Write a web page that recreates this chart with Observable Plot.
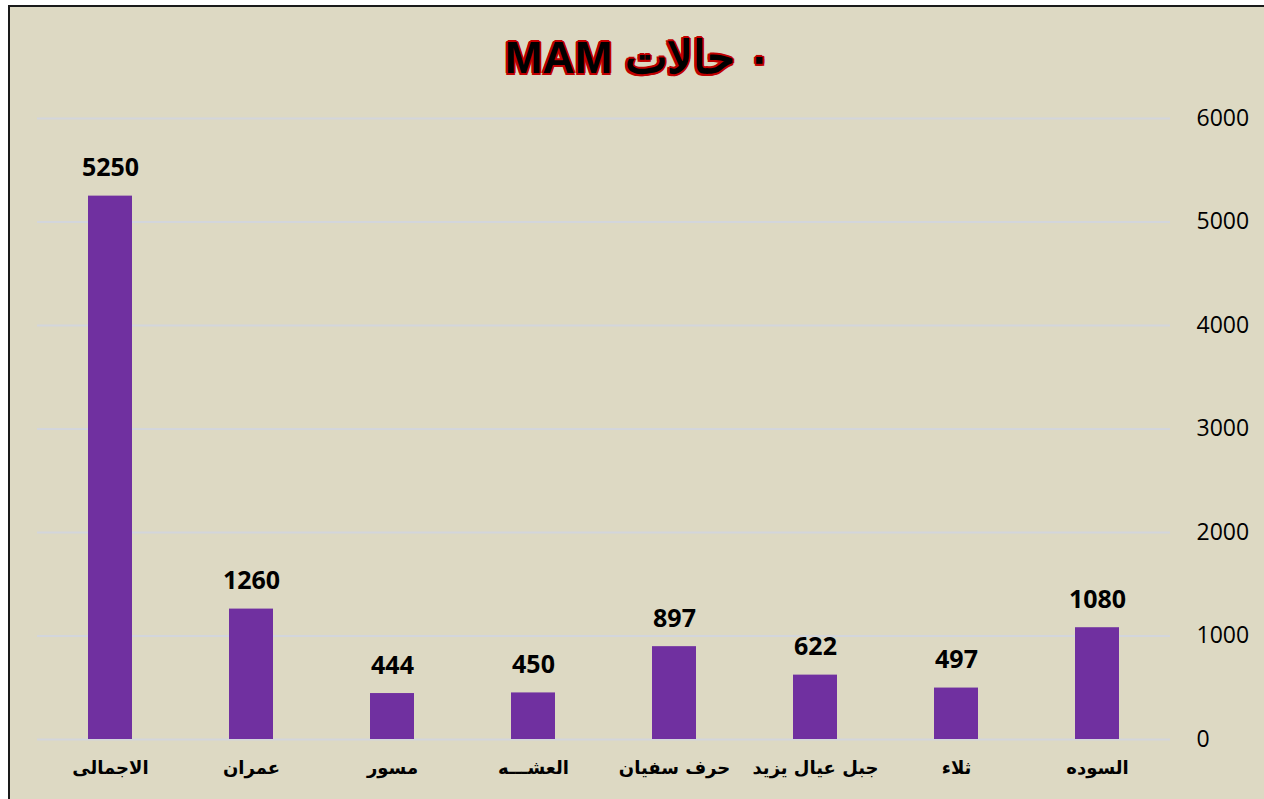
<!DOCTYPE html>
<html>
<head>
<meta charset="utf-8">
<script src="https://cdn.jsdelivr.net/npm/d3@7"></script>
<script src="https://cdn.jsdelivr.net/npm/@observablehq/plot@0.6"></script>
<style>
  html, body { margin: 0; padding: 0; background: #ffffff; width: 1264px; height: 799px; overflow: hidden; }
  #frame {
    position: absolute; left: 8px; top: 5px; width: 1280px; height: 820px;
    background: #DDD9C3; border: 2px solid #1a1a1a; box-sizing: border-box;
  }
  #title {
    position: absolute; left: 3px; top: 31px; width: 1270px; text-align: center;
    font-family: "Liberation Sans", Arial, sans-serif; font-weight: bold; font-size: 45px;
    color: #000;
    text-shadow: 2px 0 0 #c00000, -2px 0 0 #c00000, 0 2px 0 #c00000, 0 -2px 0 #c00000,
                 1.5px 1.5px 0 #c00000, -1.5px 1.5px 0 #c00000, 1.5px -1.5px 0 #c00000, -1.5px -1.5px 0 #c00000;
  }
  #chart { position: absolute; left: 0; top: 0; }
</style>
</head>
<body>
<div id="frame"></div>
<div id="title" dir="rtl">٠ حالات MAM</div>
<div id="chart"></div>
<script>
const categories = ["الاجمالى", "عمران", "مسور", "العشـــه", "حرف سفيان", "جبل عيال يزيد", "ثلاء", "السوده"];
const values = [5250, 1260, 444, 450, 897, 622, 497, 1080];
const yTicks = [0, 1000, 2000, 3000, 4000, 5000, 6000];

const data = categories.map((c, i) => ({category: c, value: values[i]}));

const chart = Plot.plot({
  width: 1264,
  height: 799,
  marginTop: 118,
  marginBottom: 60,
  marginLeft: 37,
  marginRight: 94,
  style: {background: "transparent", overflow: "visible"},
  x: {domain: categories, paddingInner: 0.69, paddingOuter: 0.34, label: null},
  y: {domain: [0, 6000], label: null},
  marks: [
    Plot.gridY(yTicks, {stroke: "#d3d6dc", strokeOpacity: 1, strokeWidth: 2}),
    Plot.axisY({anchor: "right", ticks: yTicks, tickFormat: d => String(d), tickSize: 0, tickPadding: 26,
      textAnchor: "start", fontSize: 23, fontFamily: "Open Sans", fill: "#000", label: null}),
    Plot.axisX({tickSize: 0, tickPadding: 22, fontSize: 18, fontWeight: "bold",
      fontFamily: "DejaVu Sans", fill: "#000", label: null}),
    Plot.barY(data, {x: "category", y: "value", fill: "#7030A0"}),
    Plot.text(data, {x: "category", y: "value", text: d => String(d.value), dy: -28,
      fontSize: 25, fontWeight: "bold", fontFamily: "Open Sans", fill: "#000"})
  ]
});
document.getElementById("chart").appendChild(chart);
</script>
</body>
</html>
